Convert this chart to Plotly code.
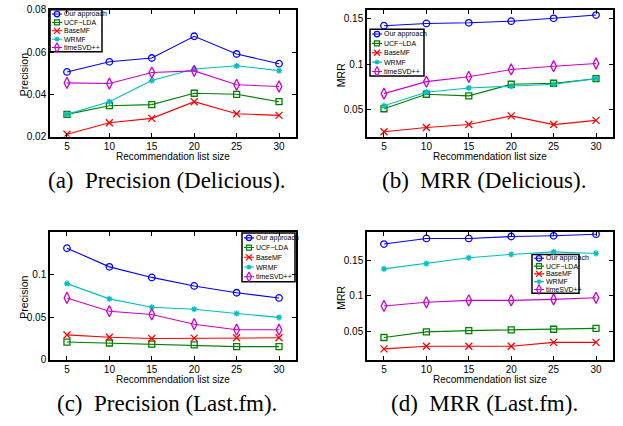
import plotly.graph_objects as go

# ---------------- data ----------------
list_sizes = [5, 10, 15, 20, 25, 30]
methods = ["Our approach", "UCF\u2212LDA", "BaseMF", "WRMF", "timeSVD++"]

# (a) Precision on Delicious
prec_del_ours = [0.0506, 0.0554, 0.0572, 0.0675, 0.0591, 0.0545]
prec_del_ucf = [0.0305, 0.0346, 0.0351, 0.0405, 0.0400, 0.0365]
prec_del_basemf = [0.0211, 0.0265, 0.0286, 0.0365, 0.0308, 0.0300]
prec_del_wrmf = [0.0305, 0.0365, 0.0465, 0.0520, 0.0535, 0.0512]
prec_del_timesvd = [0.0454, 0.0451, 0.0503, 0.0511, 0.0445, 0.0437]

# (b) MRR on Delicious
mrr_del_ours = [0.1425, 0.1450, 0.1457, 0.1475, 0.1507, 0.1543]
mrr_del_ucf = [0.0507, 0.0667, 0.0649, 0.0778, 0.0789, 0.0839]
mrr_del_basemf = [0.0253, 0.0300, 0.0332, 0.0428, 0.0332, 0.0378]
mrr_del_wrmf = [0.0539, 0.0690, 0.0737, 0.0755, 0.0778, 0.0840]
mrr_del_timesvd = [0.0674, 0.0807, 0.0860, 0.0941, 0.0977, 0.1007]

# (c) Precision on Last.fm
prec_lfm_ours = [0.1310, 0.1090, 0.0966, 0.0866, 0.0786, 0.0725]
prec_lfm_ucf = [0.0206, 0.0195, 0.0183, 0.0172, 0.0153, 0.0153]
prec_lfm_basemf = [0.0290, 0.0263, 0.0248, 0.0252, 0.0256, 0.0256]
prec_lfm_wrmf = [0.0893, 0.0714, 0.0615, 0.0592, 0.0542, 0.0496]
prec_lfm_timesvd = [0.0725, 0.0569, 0.0531, 0.0416, 0.0351, 0.0351]

# (d) MRR on Last.fm
mrr_lfm_ours = [0.1730, 0.1809, 0.1809, 0.1836, 0.1846, 0.1869]
mrr_lfm_ucf = [0.0412, 0.0491, 0.0509, 0.0518, 0.0528, 0.0541]
mrr_lfm_basemf = [0.0251, 0.0288, 0.0288, 0.0288, 0.0343, 0.0343]
mrr_lfm_wrmf = [0.1380, 0.1454, 0.1537, 0.1583, 0.1620, 0.1597]
mrr_lfm_timesvd = [0.0857, 0.0908, 0.0935, 0.0935, 0.0949, 0.0972]

x_ticks = [5, 10, 15, 20, 25, 30]
captions = ["(a)\u2002Precision (Delicious).", "(b)\u2002MRR (Delicious).",
            "(c)\u2002Precision (Last.fm).", "(d)\u2002MRR (Last.fm)."]
y_titles = ["Precision", "MRR", "Precision", "MRR"]

# ---------------- styles ----------------
colors = ["rgb(0,0,255)", "rgb(0,128,0)", "rgb(255,0,0)", "rgb(0,191,191)", "rgb(204,0,204)"]
symbols = ["circle-open", "square-open", "x-thin-open", "asterisk-open", "diamond-tall-open"]
sizes = [6.5, 6, 7, 5, 8]

W, H = 623, 426
SANS = "Liberation Sans, Arial, sans-serif"
SERIF = "Liberation Serif, Times New Roman, serif"

panels = [
    dict(series=[prec_del_ours, prec_del_ucf, prec_del_basemf, prec_del_wrmf, prec_del_timesvd],
         yr=[0.02, 0.08], yt=[0.02, 0.04, 0.06, 0.08], ytt=["0.02", "0.04", "0.06", "0.08"],
         box=(50, 5, 296, 135), leg=(50, 5, 102, 48)),
    dict(series=[mrr_del_ours, mrr_del_ucf, mrr_del_basemf, mrr_del_wrmf, mrr_del_timesvd],
         yr=[0.02, 0.16], yt=[0.05, 0.1, 0.15], ytt=["0.05", "0.1", "0.15"],
         box=(367, 5, 613, 135), leg=(370, 25, 424, 73)),
    dict(series=[prec_lfm_ours, prec_lfm_ucf, prec_lfm_basemf, prec_lfm_wrmf, prec_lfm_timesvd],
         yr=[0, 0.15], yt=[0, 0.05, 0.1], ytt=["0", "0.05", "0.1"],
         box=(50, 233, 296, 364), leg=(242, 234, 295, 284)),
    dict(series=[mrr_lfm_ours, mrr_lfm_ucf, mrr_lfm_basemf, mrr_lfm_wrmf, mrr_lfm_timesvd],
         yr=[0.01, 0.19], yt=[0.05, 0.1, 0.15], ytt=["0.05", "0.1", "0.15"],
         box=(367, 233, 613, 364), leg=(532, 256, 579, 296)),
]
XR = [3, 32]

fig = go.Figure()
shapes = []
annotations = []
layout_axes = {}

for k, p in enumerate(panels):
    sfx = "" if k == 0 else str(k + 1)
    xa, ya = "x" + sfx, "y" + sfx
    x0, y0, x1, y1 = p["box"]
    yr = p["yr"]

    for i, vals in enumerate(p["series"]):
        fig.add_trace(go.Scatter(
            x=list_sizes, y=vals, mode="lines+markers", name=methods[i],
            xaxis=xa, yaxis=ya, showlegend=False,
            line=dict(color=colors[i], width=1.1),
            marker=dict(symbol=symbols[i], size=sizes[i], color=colors[i],
                        line=dict(color=colors[i], width=1.3)),
        ))

    # legend (drawn manually to match the compact MATLAB legend)
    lx0, ly0, lx1, ly1 = p["leg"]

    def to_x(px):
        return XR[0] + (px - x0) / (x1 - x0) * (XR[1] - XR[0])

    def to_y(py):
        return yr[1] - (py - y0) / (y1 - y0) * (yr[1] - yr[0])

    shapes.append(dict(type="rect", xref="paper", yref="paper",
                       x0=lx0 / W, x1=lx1 / W, y0=1 - ly1 / H, y1=1 - ly0 / H,
                       line=dict(color="black", width=1.5), fillcolor="white", layer="below"))
    rowh = (ly1 - ly0) / len(methods)
    for i, m in enumerate(methods):
        cy = ly0 + (i + 0.5) * rowh
        fig.add_trace(go.Scatter(
            x=[to_x(lx0 + 2), to_x(lx0 + 12)], y=[to_y(cy), to_y(cy)], mode="lines",
            xaxis=xa, yaxis=ya, showlegend=False, hoverinfo="skip",
            line=dict(color=colors[i], width=1.1)))
        fig.add_trace(go.Scatter(
            x=[to_x(lx0 + 7)], y=[to_y(cy)], mode="markers",
            xaxis=xa, yaxis=ya, showlegend=False, hoverinfo="skip",
            marker=dict(symbol=symbols[i], size=max(sizes[i] - 1, 4), color=colors[i],
                        line=dict(color=colors[i], width=1.2))))
        annotations.append(dict(xref="paper", yref="paper", x=(lx0 + 11.5) / W, y=1 - cy / H,
                                text=m, showarrow=False, xanchor="left", yanchor="middle",
                                font=dict(family=SANS, size=7, color="black")))

    axis_common = dict(showgrid=False, zeroline=False, showline=True, linecolor="black",
                       linewidth=1.5, mirror="allticks", ticks="inside", ticklen=4,
                       tickwidth=1, tickcolor="black", ticklabeloverflow="allow",
                       tickfont=dict(family=SANS, size=10, color="black"))
    layout_axes["xaxis" + sfx] = dict(axis_common, domain=[x0 / W, x1 / W], range=XR,
                                      tickvals=x_ticks, anchor=ya)
    layout_axes["yaxis" + sfx] = dict(axis_common, domain=[1 - y1 / H, 1 - y0 / H], range=yr,
                                      tickvals=p["yt"], ticktext=p["ytt"], anchor=xa)

    # axis titles
    annotations.append(dict(xref="paper", yref="paper", x=(x0 + x1) / 2 / W, y=1 - (y1 + 20.5) / H,
                            text="Recommendation list size", showarrow=False, borderpad=0,
                            xanchor="center", yanchor="middle",
                            font=dict(family=SANS, size=10, color="black")))
    annotations.append(dict(xref="paper", yref="paper", x=(x0 - 26) / W, y=1 - ((y0 + y1) / 2 + 2) / H,
                            text=y_titles[k], showarrow=False, textangle=-90,
                            xanchor="center", yanchor="middle",
                            font=dict(family=SANS, size=10.5, color="black")))
    # caption
    annotations.append(dict(xref="paper", yref="paper", x=(x0 + x1) / 2 / W - 6 / W,
                            y=1 - (y1 + 45) / H,
                            text=captions[k], showarrow=False, xanchor="center", yanchor="middle",
                            font=dict(family=SERIF, size=23, color="black")))

fig.update_layout(
    width=W, height=H, autosize=False,
    margin=dict(l=0, r=0, t=0, b=0),
    paper_bgcolor="white", plot_bgcolor="white",
    showlegend=False, shapes=shapes, annotations=annotations,
    **layout_axes,
)

fig.write_html("out.html", config={"displayModeBar": False},
               post_script="document.body.style.margin='0';document.body.style.overflow='hidden';")
